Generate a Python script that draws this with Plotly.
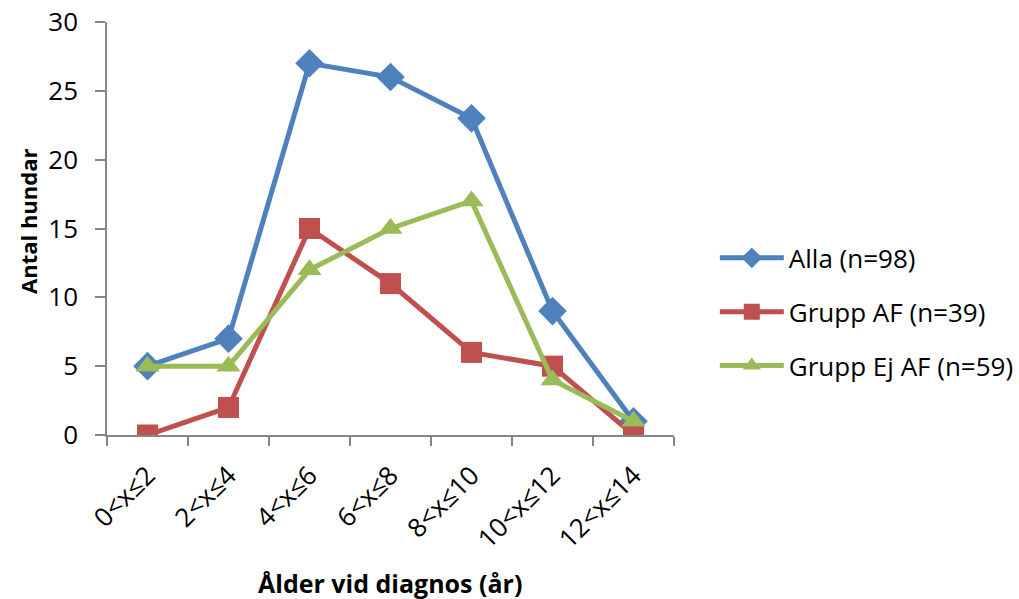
import plotly.graph_objects as go

categories = ["0<x≤2", "2<x≤4", "4<x≤6", "6<x≤8", "8<x≤10", "10<x≤12", "12<x≤14"]
alla = [5, 7, 27, 26, 23, 9, 1]
grupp_af = [0, 2, 15, 11, 6, 5, 0]
grupp_ej_af = [5, 5, 12, 15, 17, 4, 1]

series = [
    ("Alla (n=98)", alla, "#4F81BD", "diamond", 22),
    ("Grupp AF (n=39)", grupp_af, "#C0504D", "square", 21),
    ("Grupp Ej AF (n=59)", grupp_ej_af, "#9BBB59", "triangle-up", 21),
]

font_family = "Open Sans, Liberation Sans, sans-serif"
axis_color = "#868686"

fig = go.Figure()
for name, vals, color, symbol, size in series:
    fig.add_trace(go.Scatter(
        x=list(range(len(categories))), y=vals, name=name, legendgroup=name,
        mode="lines+markers",
        line=dict(color=color, width=5),
        marker=dict(symbol=symbol, size=size, color=color),
    ))

fig.update_layout(
    width=1019, height=599,
    margin=dict(l=107, r=345, t=22, b=164, autoexpand=False),
    paper_bgcolor="white", plot_bgcolor="white",
    font=dict(family=font_family, color="black", size=26),
    showlegend=True,
    legend=dict(x=1.072, y=0.298, xanchor="left", yanchor="middle",
                font=dict(size=26), tracegroupgap=17, itemwidth=64,
                bgcolor="rgba(0,0,0,0)"),
)

fig.update_xaxes(
    range=[-0.5, len(categories) - 0.5], automargin=False,
    tickmode="array", tickvals=list(range(len(categories))), ticktext=categories,
    tickangle=-45, ticks="", ticklabelstandoff=13, showgrid=False, zeroline=False,
    showline=True, linecolor=axis_color, linewidth=1.5,
    tickfont=dict(size=26),
)
# category boundary tick marks
fig.update_xaxes(minor=dict(tickvals=[i - 0.5 for i in range(len(categories) + 1)],
                            ticks="outside", ticklen=9, tickcolor=axis_color, tickwidth=1.5))

fig.update_yaxes(
    range=[0, 30], dtick=5, automargin=False,
    ticks="outside", ticklen=10, tickcolor=axis_color, tickwidth=1.5, ticklabelstandoff=12,
    showgrid=False, zeroline=False, showline=True, linecolor=axis_color, linewidth=1.5,
    tickfont=dict(size=26),
)

# axis titles
fig.add_annotation(text="<b>Ålder vid diagnos (år)</b>", xref="paper", yref="paper",
                   x=(390 - 107) / (1019 - 107 - 345), y=-(583 - 435) / 413,
                   xanchor="center", yanchor="middle", showarrow=False,
                   font=dict(size=25))
fig.add_annotation(text="<b>Antal hundar</b>", xref="paper", yref="paper",
                   x=-(107 - 28) / (1019 - 107 - 345), y=(435 - 222) / 413,
                   xanchor="center", yanchor="middle", showarrow=False, textangle=-90,
                   font=dict(size=22))

fig.write_html("out.html")
